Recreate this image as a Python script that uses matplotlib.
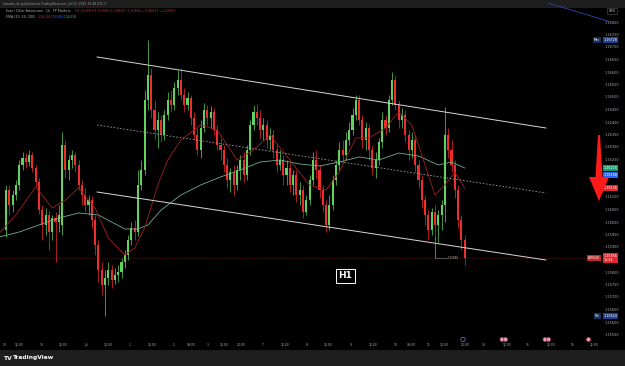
import matplotlib
matplotlib.use("Agg")
import matplotlib.pyplot as plt
from matplotlib.patches import Polygon, Rectangle, Circle
import numpy as np

# ---------------- data (EUR/USD, 1h-style candles) ----------------
opens = [1.15968, 1.16128, 1.16068, 1.16108, 1.16148, 1.16228, 1.16256, 1.16240, 1.16268, 1.16216,
         1.16160, 1.16048, 1.15988, 1.16028, 1.15960, 1.16016, 1.16000, 1.15988, 1.16308, 1.16208,
         1.16248, 1.16268, 1.16228, 1.16148, 1.16108, 1.16068, 1.16088, 1.16008, 1.15908, 1.15808,
         1.15748, 1.15776, 1.15808, 1.15768, 1.15788, 1.15800, 1.15840, 1.15868, 1.15928, 1.15976,
         1.15960, 1.16148, 1.16208, 1.16488, 1.16588, 1.16448, 1.16368, 1.16408, 1.16348, 1.16428,
         1.16488, 1.16468, 1.16536, 1.16568, 1.16508, 1.16468, 1.16496, 1.16416, 1.16348, 1.16288,
         1.16376, 1.16448, 1.16416, 1.16440, 1.16368, 1.16308, 1.16288, 1.16228, 1.16168, 1.16200,
         1.16148, 1.16208, 1.16248, 1.16188, 1.16288, 1.16388, 1.16440, 1.16416, 1.16368, 1.16388,
         1.16328, 1.16348, 1.16288, 1.16228, 1.16248, 1.16188, 1.16216, 1.16148, 1.16188, 1.16108,
         1.16128, 1.16040, 1.16088, 1.16168, 1.16248, 1.16208, 1.16128, 1.16068, 1.15988, 1.16068,
         1.16168, 1.16228, 1.16288, 1.16268, 1.16328, 1.16368, 1.16428, 1.16488, 1.16408, 1.16328,
         1.16376, 1.16288, 1.16216, 1.16248, 1.16320, 1.16408, 1.16376, 1.16488, 1.16568, 1.16468,
         1.16408, 1.16428, 1.16348, 1.16288, 1.16328, 1.16228, 1.16168, 1.16088, 1.16028, 1.15968,
         1.16040, 1.15988, 1.16028, 1.16068, 1.16348, 1.16288, 1.16228, 1.16128, 1.16008, 1.15928]
highs = [1.16148, 1.16148, 1.16128, 1.16168, 1.16248, 1.16280, 1.16276, 1.16288, 1.16280, 1.16228,
         1.16176, 1.16068, 1.16056, 1.16048, 1.16028, 1.16040, 1.16068, 1.16360, 1.16328, 1.16268,
         1.16288, 1.16280, 1.16248, 1.16168, 1.16136, 1.16108, 1.16104, 1.16028, 1.15928, 1.15840,
         1.15808, 1.15840, 1.15828, 1.15816, 1.15828, 1.15856, 1.15888, 1.15948, 1.16000, 1.16008,
         1.16208, 1.16248, 1.16528, 1.16728, 1.16616, 1.16488, 1.16440, 1.16428, 1.16448, 1.16520,
         1.16528, 1.16560, 1.16608, 1.16616, 1.16536, 1.16520, 1.16508, 1.16440, 1.16376, 1.16408,
         1.16476, 1.16468, 1.16464, 1.16456, 1.16388, 1.16336, 1.16308, 1.16256, 1.16216, 1.16228,
         1.16228, 1.16268, 1.16280, 1.16308, 1.16408, 1.16468, 1.16472, 1.16448, 1.16416, 1.16408,
         1.16376, 1.16368, 1.16308, 1.16288, 1.16268, 1.16248, 1.16240, 1.16208, 1.16208, 1.16160,
         1.16148, 1.16108, 1.16188, 1.16280, 1.16288, 1.16228, 1.16148, 1.16088, 1.16108, 1.16188,
         1.16248, 1.16320, 1.16328, 1.16360, 1.16400, 1.16456, 1.16508, 1.16508, 1.16428, 1.16400,
         1.16392, 1.16308, 1.16280, 1.16336, 1.16440, 1.16428, 1.16508, 1.16600, 1.16588, 1.16488,
         1.16456, 1.16448, 1.16368, 1.16360, 1.16348, 1.16248, 1.16188, 1.16108, 1.16048, 1.16056,
         1.16068, 1.16048, 1.16088, 1.16460, 1.16376, 1.16328, 1.16248, 1.16148, 1.16028, 1.15948]
lows = [1.15940, 1.16028, 1.16040, 1.16088, 1.16128, 1.16208, 1.16216, 1.16224, 1.16200, 1.16144,
        1.16032, 1.15928, 1.15948, 1.15888, 1.15928, 1.15840, 1.15960, 1.15948, 1.16176, 1.16168,
        1.16216, 1.16200, 1.16128, 1.16068, 1.16040, 1.16028, 1.15976, 1.15868, 1.15760, 1.15708,
        1.15624, 1.15748, 1.15736, 1.15752, 1.15760, 1.15776, 1.15816, 1.15848, 1.15908, 1.15928,
        1.15944, 1.16128, 1.16188, 1.16448, 1.16416, 1.16328, 1.16296, 1.16320, 1.16328, 1.16408,
        1.16440, 1.16448, 1.16508, 1.16488, 1.16440, 1.16448, 1.16388, 1.16328, 1.16268, 1.16256,
        1.16360, 1.16388, 1.16376, 1.16348, 1.16288, 1.16248, 1.16200, 1.16136, 1.16120, 1.16108,
        1.16128, 1.16168, 1.16160, 1.16168, 1.16268, 1.16368, 1.16388, 1.16336, 1.16328, 1.16296,
        1.16288, 1.16256, 1.16200, 1.16208, 1.16148, 1.16148, 1.16120, 1.16108, 1.16080, 1.16068,
        1.16016, 1.16028, 1.16068, 1.16148, 1.16176, 1.16096, 1.16040, 1.15960, 1.15968, 1.16048,
        1.16148, 1.16208, 1.16240, 1.16248, 1.16308, 1.16348, 1.16408, 1.16388, 1.16296, 1.16288,
        1.16248, 1.16188, 1.16176, 1.16228, 1.16296, 1.16348, 1.16360, 1.16468, 1.16448, 1.16376,
        1.16376, 1.16320, 1.16248, 1.16256, 1.16200, 1.16136, 1.16056, 1.15988, 1.15928, 1.15948,
        1.15856, 1.15920, 1.15968, 1.16000, 1.16256, 1.16200, 1.16096, 1.15976, 1.15888, 1.15828]
closes = [1.16128, 1.16068, 1.16108, 1.16148, 1.16228, 1.16256, 1.16240, 1.16268, 1.16216, 1.16160,
          1.16048, 1.15988, 1.16028, 1.15960, 1.16016, 1.16000, 1.16028, 1.16308, 1.16208, 1.16248,
          1.16268, 1.16228, 1.16148, 1.16108, 1.16068, 1.16088, 1.16008, 1.15908, 1.15808, 1.15748,
          1.15776, 1.15808, 1.15768, 1.15788, 1.15800, 1.15840, 1.15868, 1.15928, 1.15976, 1.15960,
          1.16148, 1.16208, 1.16488, 1.16588, 1.16448, 1.16368, 1.16408, 1.16348, 1.16428, 1.16488,
          1.16468, 1.16536, 1.16568, 1.16508, 1.16468, 1.16496, 1.16416, 1.16348, 1.16288, 1.16376,
          1.16448, 1.16416, 1.16440, 1.16368, 1.16308, 1.16288, 1.16228, 1.16168, 1.16200, 1.16148,
          1.16208, 1.16248, 1.16188, 1.16288, 1.16388, 1.16440, 1.16416, 1.16368, 1.16388, 1.16328,
          1.16348, 1.16288, 1.16228, 1.16248, 1.16188, 1.16216, 1.16148, 1.16188, 1.16108, 1.16128,
          1.16040, 1.16088, 1.16168, 1.16248, 1.16208, 1.16128, 1.16068, 1.15988, 1.16068, 1.16168,
          1.16228, 1.16288, 1.16268, 1.16328, 1.16368, 1.16428, 1.16488, 1.16408, 1.16328, 1.16376,
          1.16288, 1.16216, 1.16248, 1.16320, 1.16408, 1.16376, 1.16488, 1.16568, 1.16468, 1.16408,
          1.16428, 1.16348, 1.16288, 1.16328, 1.16228, 1.16168, 1.16088, 1.16028, 1.15968, 1.16040,
          1.15988, 1.16028, 1.16068, 1.16348, 1.16288, 1.16228, 1.16128, 1.16008, 1.15928, 1.15856]

ema20_idx = [-2, 3, 9, 14, 18, 22, 27, 31, 36, 39, 42, 46, 49, 53, 59, 64, 70, 75, 80, 86,
             92, 97, 101, 106, 110, 115, 119, 123, 127, 130, 133, 136, 139]
ema20_val = [1.15956, 1.16028, 1.16140, 1.16056, 1.16088, 1.16136, 1.16056, 1.15936, 1.15868, 1.15896,
             1.15976, 1.16148, 1.16248, 1.16328, 1.16388, 1.16368, 1.16248, 1.16288, 1.16348, 1.16248,
             1.16148, 1.16128, 1.16200, 1.16336, 1.16336, 1.16376, 1.16440, 1.16388, 1.16228, 1.16108,
             1.16148, 1.16200, 1.16136]
ema50_idx = [-2, 4, 10, 16, 22, 28, 32, 36, 40, 43, 47, 53, 59, 65, 71, 77, 83, 89, 95, 101,
             107, 113, 119, 125, 131, 135, 139]
ema50_val = [1.15940, 1.15960, 1.15988, 1.16016, 1.16036, 1.16028, 1.16000, 1.15972, 1.15972, 1.15988,
             1.16048, 1.16108, 1.16148, 1.16180, 1.16208, 1.16240, 1.16248, 1.16232, 1.16224, 1.16240,
             1.16260, 1.16248, 1.16276, 1.16264, 1.16228, 1.16240, 1.16216]
ema200_last = 1.16188

channel_idx = [27.6, 163.6]
channel_upper = [1.16660, 1.16376]
channel_mid = [1.16388, 1.16116]
channel_lower = [1.16120, 1.15848]

price_ticks = [1.16800, 1.16750, 1.16700, 1.16650, 1.16600, 1.16550, 1.16500, 1.16450, 1.16400,
               1.16350, 1.16300, 1.16250, 1.16200, 1.16150, 1.16100, 1.16050, 1.16000, 1.15950,
               1.15900, 1.15850, 1.15800, 1.15750, 1.15700, 1.15650, 1.15600, 1.15550]
time_pos = [-0.3, 3.9, 10.9, 17.3, 24.2, 30.9, 37.6, 44.2, 50.9, 56.1, 61.2, 66.1, 71.2, 77.9, 84.5,
            91.2, 97.6, 104.5, 111.2, 118.2, 122.7, 127.9, 132.7, 139.1, 144.8, 151.8, 158.2, 165.2,
            171.8, 178.2]
time_labels = ["30", "12:00", "30", "12:00", "Jul", "12:00", "1", "12:00", "2", "09:00", "3", "12:00",
               "12:00", "7", "12:00", "8", "12:00", "9", "12:00", "10", "09:00", "11", "12:00", "12:00",
               "14", "12:00", "15", "12:00", "16", "12:00"]

UP, DOWN = '#5fd35a', '#ef2d2d'
TXT = '#a8abb3'

# ---------------- figure ----------------
fig = plt.figure(figsize=(6.25, 3.66), dpi=100, facecolor='black')
ax = fig.add_axes([0, 29 / 366, 600 / 625, 329 / 366])
ax.set_facecolor('black')
ax.set_xlim(-6 / 3.3, 594 / 3.3)
ax.set_ylim(1.15540, 1.16856)
for s in ax.spines.values():
    s.set_visible(False)

o = np.array(opens); h = np.array(highs); l = np.array(lows); c = np.array(closes)
idx = np.arange(len(c))
cols = [UP if cc >= oo else DOWN for oo, cc in zip(o, c)]
ax.vlines(idx, l, h, colors=cols, lw=0.5, zorder=3)
body = np.maximum(np.abs(c - o), 0.00002)
ax.bar(idx, body, bottom=np.minimum(o, c), width=0.62, color=cols, lw=0, zorder=4)

ax.plot(ema50_idx, ema50_val, color='#6fae8e', lw=0.6, zorder=5)
ax.plot(ema20_idx, ema20_val, color='#a32020', lw=0.6, zorder=5)

ax.plot(channel_idx, channel_upper, color='#d8d8d8', lw=0.7, zorder=6)
ax.plot(channel_idx, channel_mid, color='#9a9a9a', lw=0.6, ls=(0, (2, 2)), zorder=6)
ax.plot(channel_idx, channel_lower, color='#d8d8d8', lw=0.7, zorder=6)

ax.axhline(closes[-1], color='#c03030', lw=0.4, ls=(0, (1, 2)), zorder=2)

# low marker
ax.plot([130, 130, 133.5], [1.15940, lows[130], lows[130]], color='#8a8a8a', lw=0.4, zorder=6)
ax.text(134, lows[130], f"{lows[130]:.5f}", fontsize=2.0, color='#bbbbbb', va='center', ha='left',
        zorder=7)

# price-scale boxes (values taken from the data)
box_prices = [max(highs), min(lows), ema50_val[-1], ema200_last, ema20_val[-1], closes[-1]]

# axes ticks (labels hidden where a price box covers them)
ax.yaxis.tick_right()
ax.set_yticks(price_ticks)
ax.set_yticklabels([("" if any(abs(p - b) < 0.00020 for b in box_prices) else f"{p:.5f}")
                    for p in price_ticks], fontsize=2.5, color=TXT)
ax.tick_params(axis='y', length=0, pad=3.5)
ax.set_xticks(time_pos)
ax.set_xticklabels(time_labels, fontsize=2.2, color=TXT)
ax.tick_params(axis='x', length=0, pad=4.5)

yt = ax.get_yaxis_transform()
def pbox(price, text, fc, tc='white', tag=None, tagfc=None):
    ax.text(1.006, price, text, transform=yt, fontsize=2.4, color=tc, va='center', ha='left',
            clip_on=False, zorder=20, linespacing=1.0,
            bbox=dict(boxstyle='square,pad=0.3', fc=fc, ec='none'))
    if tag:
        ax.text(1.0, price, tag, transform=yt, fontsize=2.2, color='white', va='center', ha='right',
                clip_on=False, zorder=20,
                bbox=dict(boxstyle='square,pad=0.3', fc=tagfc, ec='none'))

pbox(max(highs), f"{max(highs):.5f}", '#22408a', tag='Max', tagfc='#1a2d5c')
pbox(min(lows), f"{min(lows):.5f}", '#22408a', tag='Min', tagfc='#1a2d5c')
pbox(ema50_val[-1], f"{ema50_val[-1]:.5f}", '#1e9a6a')
pbox(ema200_last, f"{ema200_last:.5f}", '#2962ff')
pbox(ema20_val[-1], f"{ema20_val[-1]:.5f}", '#d92b2b')
pbox(closes[-1], f"{closes[-1]:.5f}\n15:44", '#e0282e', tag='EURUSD', tagfc='#c0262a')

# ---------------- overlay (frame decorations in pixels) ----------------
ov = fig.add_axes([0, 0, 1, 1], zorder=5)
ov.set_xlim(0, 625); ov.set_ylim(366, 0); ov.axis('off'); ov.patch.set_alpha(0)

ov.add_patch(Rectangle((0, 0), 625, 7.5, fc='#1e1e1e', ec='none'))
ov.text(3, 3.8, "fxtrader_br published on TradingView.com, Jul 15, 2025 15:48 UTC-3",
        fontsize=2.2, color='#9a9a9a', va='center', ha='left')
ov.add_patch(Rectangle((0, 350), 625, 16, fc='#1e1e1e', ec='none'))
ov.text(4, 358, "TV", fontsize=4.3, color='white', weight='heavy', va='center', ha='left')
ov.text(13, 358, "TradingView", fontsize=4.2, color='white', weight='bold', va='center', ha='left')

ov.text(6, 11, "Euro / Dólar Americano · 1h · FP Markets", fontsize=2.3, color='#b0b0b0',
        va='center', ha='left')
ov.text(75, 11, "O1.15928 H1.15948 L1.15828 C1.15856 −0.00072 (−0.06%)", fontsize=2.3,
        color='#e0282e', va='center', ha='left')
ov.text(6, 16.5, "EMA (20, 50, 200)", fontsize=2.3, color='#b0b0b0', va='center', ha='left')
ov.text(38, 16.5, f"{ema20_val[-1]:.5f}", fontsize=2.3, color='#e0282e', va='center', ha='left')
ov.text(51, 16.5, f"{ema200_last:.5f}", fontsize=2.3, color='#2962ff', va='center', ha='left')
ov.text(64, 16.5, f"{ema50_val[-1]:.5f}", fontsize=2.3, color='#2fbf80', va='center', ha='left')

ov.text(612, 11, "USD", fontsize=2.3, color='#cccccc', va='center', ha='center',
        bbox=dict(boxstyle='square,pad=0.4', fc='black', ec='#555555', lw=0.4))
ov.plot([548, 611], [3, 22], color='#2b3f94', lw=0.7)

# H1 label
ov.text(345.5, 276, "H1", fontsize=6.5, color='white', weight='bold', va='center', ha='center',
        bbox=dict(boxstyle='square,pad=0.3', fc='black', ec='white', lw=0.7))

# red arrow
ov.add_patch(Polygon([(598, 135), (600, 135), (602.5, 177), (609, 177), (599, 201),
                      (589, 177), (595.5, 177)], closed=True, fc='#ff1a1a', ec='none'))

# event icons on time axis
ov.add_patch(Circle((463, 339.5), 2.2, fc='none', ec='#8d6fc9', lw=0.5))
for cx in (502, 505.5, 545, 548.5, 588.5):
    ov.add_patch(Circle((cx, 339.5), 2.0, fc='#d9a3b5', ec='#c23a5a', lw=0.5))

fig.savefig('out.png', dpi=100, facecolor='black')
